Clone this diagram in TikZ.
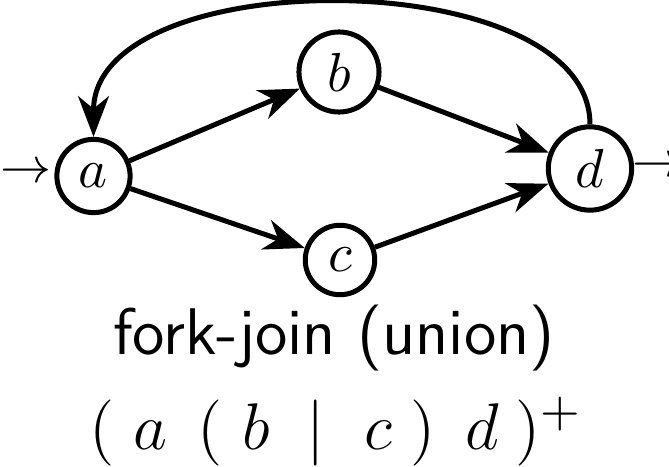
\documentclass[tikz,border=0pt]{standalone}
\usetikzlibrary{arrows.meta}
\begin{document}
\begin{tikzpicture}[x=0.1818pt,y=-0.1818pt,
  state/.style={circle,draw,line width=0.91pt,inner sep=2.3pt},
  conn/.style={line width=0.91pt,-{Stealth[length=7.4pt,width=5.6pt,inset=2.3pt]}},
  glyph/.style={inner sep=0pt,font=\fontsize{9}{11}\selectfont},
  big/.style={font=\fontsize{12}{14}\selectfont}]
\useasboundingbox (0,0) rectangle (669,467);
\node[state] (a) at (93.5,176) {$a$};
\node[state] (b) at (339,72) {$b$};
\node[state] (c) at (340,260) {$c$};
\node[state] (d) at (590,168.5) {$d$};
\node[glyph,anchor=east] (in) at ([yshift=0.5pt,xshift=-0.3pt]a.west) {$\rightarrow$};
\node[glyph,anchor=west] (out) at ([yshift=0.2pt,xshift=-0.5pt]d.east) {$\rightarrow$};
\draw[conn] (a) -- (b);
\draw[conn] (a) -- (c);
\draw[conn] (b) -- (d);
\draw[conn] (c) -- (d);
\draw[conn] (d.north) .. controls +(0,-162) and +(0,-176) .. (a.north);
\node[big,anchor=base,font=\fontsize{12}{14}\selectfont\sffamily] (lbl) at (334,355) {fork-join (union)};
\node[big,anchor=base] (re) at (336,450) {$(\hspace{0.3em}a\hspace{0.45em}(\hspace{0.3em}b\hspace{0.55em}|\hspace{0.6em}c\hspace{0.28em})\hspace{0.45em}d\hspace{0.25em})^{\mbox{\fontsize{9.5}{10}\selectfont$+$}}$};
\end{tikzpicture}
\end{document}
